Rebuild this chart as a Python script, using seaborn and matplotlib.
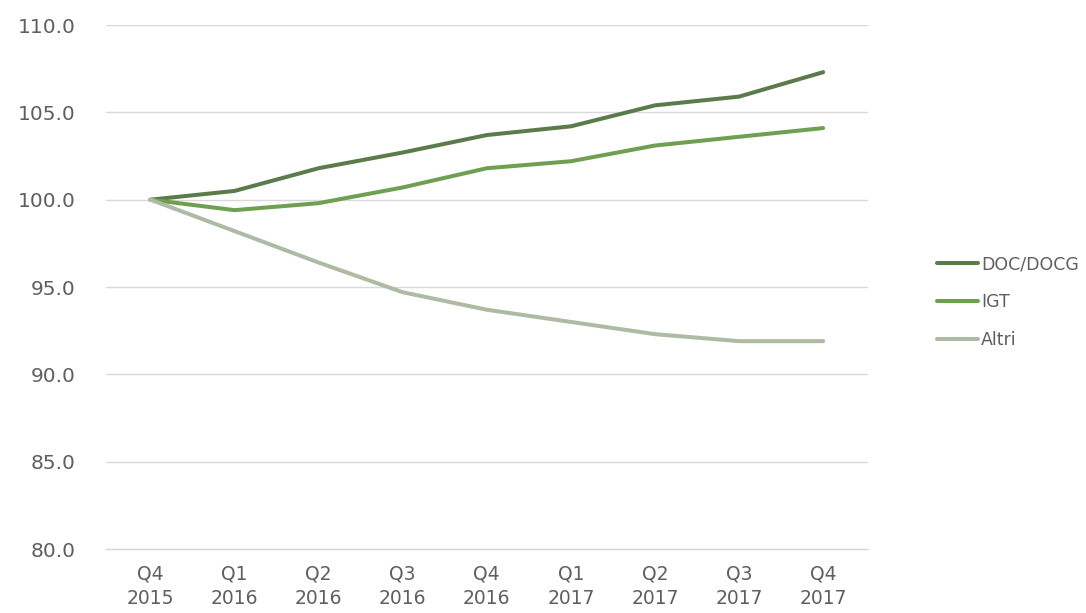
import matplotlib
matplotlib.use("Agg")
import matplotlib.pyplot as plt
import seaborn as sns
import pandas as pd

# Quarter labels (quarter / year on two lines)
quarters = ["Q4\n2015", "Q1\n2016", "Q2\n2016", "Q3\n2016", "Q4\n2016",
            "Q1\n2017", "Q2\n2017", "Q3\n2017", "Q4\n2017"]

# Index values (Q4 2015 = 100)
doc_docg = [100.0, 100.5, 101.8, 102.7, 103.7, 104.2, 105.4, 105.9, 107.3]
igt = [100.0, 99.4, 99.8, 100.7, 101.8, 102.2, 103.1, 103.6, 104.1]
altri = [100.0, 98.2, 96.4, 94.7, 93.7, 93.0, 92.3, 91.9, 91.9]

series_names = ["DOC/DOCG", "IGT", "Altri"]
series_values = [doc_docg, igt, altri]
colors = ["#5b7b4b", "#6fa052", "#aebba4"]

rows = []
for name, vals in zip(series_names, series_values):
    for i, v in enumerate(vals):
        rows.append({"pos": i, "serie": name, "valore": v})
df = pd.DataFrame(rows)

sns.set_theme(style="white")
plt.rcParams["font.family"] = ["DejaVu Sans"]

fig = plt.figure(figsize=(10.86, 6.13), dpi=100)
ax = fig.add_axes([0.0975, 0.1044, 0.7015, 0.8548])

sns.lineplot(data=df, x="pos", y="valore", hue="serie", hue_order=series_names,
             palette=colors, linewidth=2.9, ax=ax, legend=False, sort=False)

yticks = [80, 85, 90, 95, 100, 105, 110]
ax.set_xlim(-0.53, 8.53)
ax.set_ylim(80, 110)
ax.set_yticks(yticks)
ax.set_yticklabels([f"{v:.1f}" for v in yticks], fontsize=14.5)
ax.set_xticks(range(len(quarters)))
ax.set_xticklabels(quarters, linespacing=1.35, fontsize=13.5)
ax.yaxis.grid(True, color="#d9d9d9", linewidth=1.0)
ax.set_axisbelow(True)
for side in ["top", "right", "left"]:
    ax.spines[side].set_visible(False)
ax.spines["bottom"].set_color("#d9d9d9")
ax.spines["bottom"].set_linewidth(1.0)
ax.tick_params(axis="both", length=0, labelcolor="#5f5f5f")
ax.tick_params(axis="y", pad=22)
ax.tick_params(axis="x", pad=11)
ax.set_xlabel("")
ax.set_ylabel("")

handles = [plt.Line2D([0], [0], color=c, linewidth=2.9) for c in colors]
fig.legend(handles, series_names, loc="center left",
           bbox_to_anchor=(0.848, 0.507), frameon=False, fontsize=12.5,
           handlelength=2.4, handletextpad=0.15, labelspacing=1.15,
           labelcolor="#5f5f5f")

fig.savefig("out.png", dpi=100, facecolor="white")
